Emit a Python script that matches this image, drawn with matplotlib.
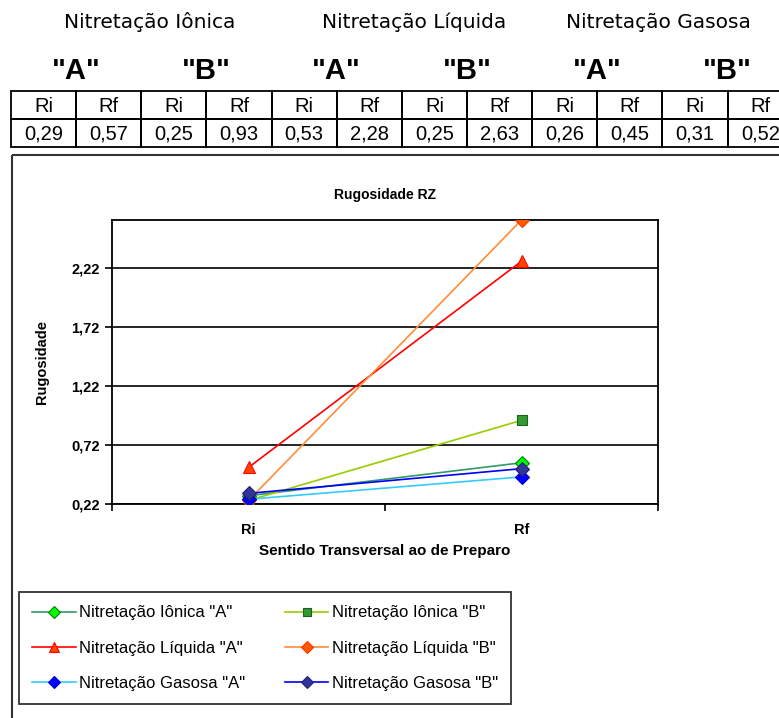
import matplotlib
matplotlib.use("Agg")
import matplotlib.pyplot as plt
from matplotlib.lines import Line2D
from matplotlib.patches import Rectangle
from matplotlib.ticker import FuncFormatter

W, H = 779, 718

# rugosidade medida antes (Ri) e depois (Rf) da nitretação
processos = ["Nitretação Iônica", "Nitretação Líquida", "Nitretação Gasosa"]
amostras = ['"A"', '"B"']
etapas = ["Ri", "Rf"]

ionica_a = [0.29, 0.57]
ionica_b = [0.25, 0.93]
liquida_a = [0.53, 2.28]
liquida_b = [0.25, 2.63]
gasosa_a = [0.26, 0.45]
gasosa_b = [0.31, 0.52]

series = [
    ('Nitretação Iônica "A"', ionica_a, "#339966", "D", "#00ff00", "#008000"),
    ('Nitretação Iônica "B"', ionica_b, "#99cc00", "s", "#339933", "#1f5f1f"),
    ('Nitretação Líquida "A"', liquida_a, "#ff0000", "^", "#ff4400", "#ff0000"),
    ('Nitretação Líquida "B"', liquida_b, "#ff8c3a", "D", "#ff5a00", "#ff3300"),
    ('Nitretação Gasosa "A"', gasosa_a, "#33ccff", "D", "#0000ff", "#0000cc"),
    ('Nitretação Gasosa "B"', gasosa_b, "#0000ff", "D", "#333399", "#222277"),
]

yticks = [0.22, 0.72, 1.22, 1.72, 2.22]

fig = plt.figure(figsize=(W / 100, H / 100), dpi=100)
fig.patch.set_facecolor("white")

# layer in pixel coordinates for the table and the frame around the chart
bg = fig.add_axes([0, 0, 1, 1])
bg.set_xlim(0, W)
bg.set_ylim(H, 0)
bg.axis("off")

col_w = 65.15
x0 = 11
row_y = [91, 119, 147]

valores = []
for s in (ionica_a, ionica_b, liquida_a, liquida_b, gasosa_a, gasosa_b):
    valores.extend(s)

head_x = [150, 414, 658]
for i, p in enumerate(processos):
    bg.text(head_x[i], 22, p, ha="center", va="center", fontsize=14.5,
            family="DejaVu Sans")

for k in range(6):
    cx = x0 + (2 * k + 1) * col_w
    bg.text(cx, 71, amostras[k % 2], ha="center", va="center", fontsize=21,
            fontweight="bold", family="Liberation Sans")

ncol = len(valores)
for c in range(ncol):
    for r in range(2):
        bg.add_patch(Rectangle((x0 + c * col_w, row_y[r]), col_w,
                               row_y[r + 1] - row_y[r], fill=False,
                               ec="black", lw=1.3))
    cx = x0 + (c + 0.5) * col_w
    bg.text(cx, (row_y[0] + row_y[1]) / 2 + 1, etapas[c % 2], ha="center",
            va="center", fontsize=14.5, family="Liberation Sans")
    bg.text(cx, (row_y[1] + row_y[2]) / 2 + 1,
            f"{valores[c]:.2f}".replace(".", ","), ha="center", va="center",
            fontsize=14.5, family="Liberation Sans")

# moldura do gráfico
bg.add_patch(Rectangle((12, 155), 900, 700, fill=False, ec="#333333", lw=1.5))

# plot area
L, R, T, B = 112, 658, 220, 504
ax = fig.add_axes([L / W, 1 - B / H, (R - L) / W, (B - T) / H])
ax.set_facecolor("white")

x = list(range(len(etapas)))
handles = []
for nome, vals, lc, mk, mfc, mec in series:
    ms = 7 if mk != "^" else 8
    ax.plot(x, vals, color=lc, lw=1.2, marker=mk, ms=ms, mfc=mfc, mec=mec,
            mew=0.8, zorder=3)
    handles.append(Line2D([], [], color=lc, lw=1.2, marker=mk, ms=ms - 1,
                          mfc=mfc, mec=mec, mew=0.8, label=nome))

ax.set_xlim(-0.5, 1.5)
ax.set_ylim(0.22, 2.63)
ax.set_yticks(yticks)
ax.yaxis.set_major_formatter(FuncFormatter(lambda v, p: f"{v:.2f}".replace(".", ",")))
ax.grid(axis="y", color="black", lw=1.2)
ax.set_axisbelow(True)
for sp in ax.spines.values():
    sp.set_color("black")
    sp.set_linewidth(1.3)

ax.set_xticks([-0.5, 0.5, 1.5], minor=False)
ax.set_xticklabels([])
ax.set_xticks(x, minor=True)
ax.set_xticklabels(etapas, minor=True)
ax.tick_params(axis="x", which="major", length=5, width=1.2, direction="out")
ax.tick_params(axis="x", which="minor", length=0, pad=14)
ax.tick_params(axis="y", length=5, width=1.2, direction="out", pad=4)
for lab in ax.get_yticklabels() + ax.get_xticklabels(minor=True):
    lab.set_fontweight("bold")
    lab.set_family("Liberation Sans")
    lab.set_fontsize(10.5)

fig.text((L + R) / 2 / W, 1 - 195 / H, "Rugosidade RZ", ha="center",
         va="center", fontsize=10, fontweight="bold", family="Liberation Sans")
fig.text((L + R) / 2 / W, 1 - 551 / H, "Sentido Transversal ao de Preparo",
         ha="center", va="center", fontsize=11, fontweight="bold",
         family="Liberation Sans")
fig.text(42 / W, 1 - 362 / H, "Rugosidade", rotation=90, ha="center",
         va="center", fontsize=10.5, fontweight="bold",
         family="Liberation Sans")

# legenda em duas colunas, preenchida por linha (A | B)
ordem = [0, 2, 4, 1, 3, 5]
leg = fig.legend(handles=[handles[i] for i in ordem], ncol=2,
                 loc="upper left", bbox_to_anchor=(19 / W, 1 - 592 / H),
                 frameon=True, fancybox=False, edgecolor="black",
                 prop={"family": "Liberation Sans", "size": 12},
                 handlelength=2.6, handletextpad=0.2, columnspacing=2.4,
                 labelspacing=1.22, borderpad=0.8, borderaxespad=0)
leg.get_frame().set_linewidth(1.3)

fig.savefig("out.png", dpi=100, facecolor="white")
